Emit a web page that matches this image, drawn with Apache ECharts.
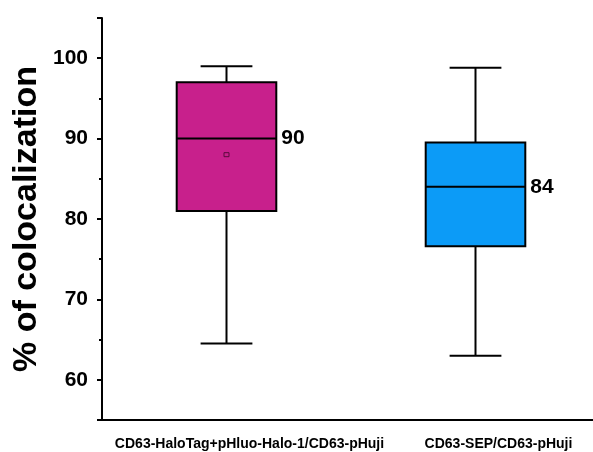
<!DOCTYPE html>
<html>
<head>
<meta charset="utf-8">
<script src="https://cdn.jsdelivr.net/npm/echarts@6/dist/echarts.min.js"></script>
<style>
html,body{margin:0;padding:0;background:#ffffff;}
#chart{width:593px;height:452px;}
</style>
</head>
<body>
<div id="chart"></div>
<script>
var categories = ['CD63-HaloTag+pHluo-Halo-1/CD63-pHuji', 'CD63-SEP/CD63-pHuji'];
var whiskerLow = [64.5, 63.0];
var q1Values = [81.0, 76.6];
var medians = [90, 84];
var q3Values = [97.0, 89.5];
var whiskerHigh = [99.0, 98.8];
var means = [88.0, null];
var boxColors = ['#C8208C', '#0C9BF7'];
var yTicks = [60, 70, 80, 90, 100];

var chart = echarts.init(document.getElementById('chart'), null, {renderer: 'canvas'});

var boxData = categories.map(function (c, i) {
  return [i, whiskerLow[i], q1Values[i], medians[i], q3Values[i], whiskerHigh[i], means[i] == null ? NaN : means[i]];
});

var FONT = '"Liberation Sans", Arial, sans-serif';

function renderBox(params, api) {
  var idx = api.value(0);
  var band = api.size([1, 0])[0];
  var bw = band * 0.4;
  var cw = bw * 0.52;
  var pLow = api.coord([idx, api.value(1)]);
  var pQ1 = api.coord([idx, api.value(2)]);
  var pMed = api.coord([idx, api.value(3)]);
  var pQ3 = api.coord([idx, api.value(4)]);
  var pHigh = api.coord([idx, api.value(5)]);
  var x = pMed[0];
  var lineStyle = {stroke: '#000', lineWidth: 2, fill: null};
  var children = [
    {type: 'line', shape: {x1: x, y1: pHigh[1], x2: x, y2: pQ3[1]}, style: lineStyle},
    {type: 'line', shape: {x1: x, y1: pQ1[1], x2: x, y2: pLow[1]}, style: lineStyle},
    {type: 'line', shape: {x1: x - cw / 2, y1: pHigh[1], x2: x + cw / 2, y2: pHigh[1]}, style: lineStyle},
    {type: 'line', shape: {x1: x - cw / 2, y1: pLow[1], x2: x + cw / 2, y2: pLow[1]}, style: lineStyle},
    {type: 'rect', shape: {x: x - bw / 2, y: pQ3[1], width: bw, height: pQ1[1] - pQ3[1]},
      style: {fill: boxColors[idx], stroke: '#000', lineWidth: 2}},
    {type: 'line', shape: {x1: x - bw / 2, y1: pMed[1], x2: x + bw / 2, y2: pMed[1]}, style: lineStyle},
    {type: 'text', x: x + bw / 2 + 5, y: pMed[1],
      style: {text: String(medians[idx]), font: 'bold 21px ' + FONT, fill: '#000',
        align: 'left', verticalAlign: 'middle'}}
  ];
  var m = api.value(6);
  if (!isNaN(m)) {
    var pm = api.coord([idx, m]);
    children.push({type: 'rect', shape: {x: x - 2.5, y: pm[1] - 2, width: 5, height: 4},
      style: {fill: null, stroke: '#5a0b3c', lineWidth: 1}});
  }
  return {type: 'group', children: children};
}

var option = {
  backgroundColor: '#ffffff',
  animation: false,
  grid: {left: 102, width: 498, top: 18, bottom: 32, containLabel: false, outerBoundsMode: 'none'},
  xAxis: {
    type: 'category',
    data: categories,
    axisLine: {lineStyle: {color: '#000', width: 2}},
    axisTick: {alignWithLabel: true, length: 6, lineStyle: {color: '#000', width: 2}},
    axisLabel: {color: '#000', fontFamily: FONT, fontWeight: 'bold', fontSize: 14, margin: 17, interval: 0,
      padding: [0, 0, 0, 46]},
    splitLine: {show: false}
  },
  yAxis: [
    {
      type: 'value',
      min: 55,
      max: 105,
      position: 'left',
      name: '% of colocalization',
      nameLocation: 'middle',
      nameGap: 58,
      nameMoveOverlap: false,
      nameTextStyle: {color: '#000', fontFamily: FONT, fontWeight: 'bold', fontSize: 34},
      axisLine: {show: true, lineStyle: {color: '#000', width: 2}},
      axisTick: {show: true, length: 5, lineStyle: {color: '#000', width: 2}},
      axisLabel: {
        color: '#000', fontFamily: FONT, fontWeight: 'bold', fontSize: 21, margin: 14,
        formatter: function (v) { return yTicks.indexOf(v) >= 0 ? String(v) : ''; }
      },
      splitLine: {show: false}
    },
    {
      type: 'value',
      min: 55,
      max: 105,
      interval: 10,
      position: 'left',
      axisLine: {show: false},
      axisTick: {show: true, length: 3, lineStyle: {color: '#000', width: 2}},
      axisLabel: {show: false},
      splitLine: {show: false}
    }
  ],
  series: [
    {
      type: 'custom',
      renderItem: renderBox,
      data: boxData,
      encode: {x: 0, y: [1, 2, 3, 4, 5]},
      yAxisIndex: 0,
      clip: false
    }
  ]
};
chart.setOption(option);
</script>
</body>
</html>
